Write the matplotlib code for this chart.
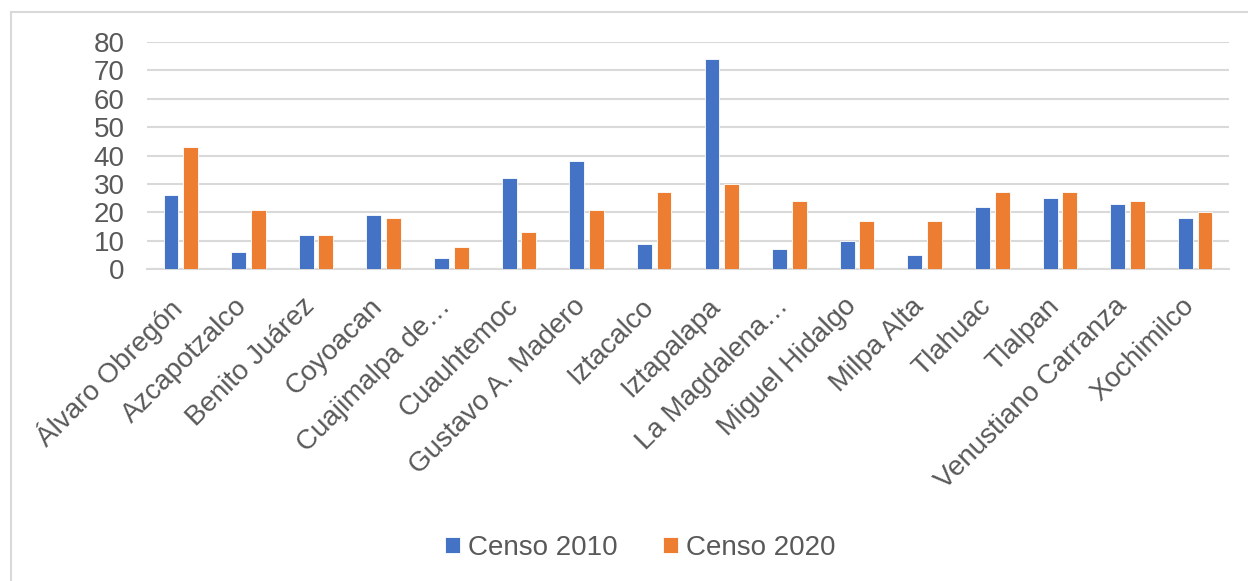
import numpy as np
import matplotlib.pyplot as plt
import matplotlib.transforms as mtransforms
from matplotlib.lines import Line2D

plt.rcParams['font.family'] = ['Liberation Sans', 'DejaVu Sans']

# Alcaldías de la Ciudad de México
alcaldias = ["Álvaro Obregón", "Azcapotzalco", "Benito Juárez", "Coyoacan",
             "Cuajimalpa de…", "Cuauhtemoc", "Gustavo A. Madero", "Iztacalco",
             "Iztapalapa", "La Magdalena…", "Miguel Hidalgo", "Milpa Alta",
             "Tlahuac", "Tlalpan", "Venustiano Carranza", "Xochimilco"]
censo_2010 = [26, 6, 12, 19, 4, 32, 38, 9, 74, 7, 10, 5, 22, 25, 23, 18]
censo_2020 = [43, 21, 12, 18, 8, 13, 21, 27, 30, 24, 17, 17, 27, 27, 24, 20]

text_color = "#595959"
grid_color = "#d9d9d9"

fig = plt.figure(figsize=(12.48, 5.81), dpi=100)
ax = fig.add_axes([0.1178, 0.5365, 0.867, 0.3917])

x = np.arange(len(alcaldias))
w = 0.22
gap = 0.035
ax.bar(x - w / 2 - gap, censo_2010, w, color="#4472c4", edgecolor="white",
       linewidth=0.6, label="Censo 2010", zorder=3)
ax.bar(x + w / 2 + gap, censo_2020, w, color="#ed7d31", edgecolor="white",
       linewidth=0.6, label="Censo 2020", zorder=3)

ax.set_xlim(-0.5, len(alcaldias) - 0.5)
ax.set_ylim(0, 80)
ax.set_yticks(range(0, 81, 10))
ax.yaxis.grid(True, color=grid_color, linewidth=1.5, zorder=0)
ax.set_axisbelow(True)
for s in ["top", "right", "left"]:
    ax.spines[s].set_visible(False)
ax.spines["bottom"].set_color(grid_color)
ax.spines["bottom"].set_linewidth(1.5)
ax.tick_params(axis="both", length=0, labelsize=20, colors=text_color)
ax.tick_params(axis="y", pad=16)

ax.set_xticks(x)
ax.set_xticklabels(alcaldias, rotation=45, ha="right", rotation_mode="anchor")
ax.tick_params(axis="x", pad=10)

# desplazar etiquetas para que terminen bajo cada grupo
shift = mtransforms.ScaledTranslation(-14 / 100, -10 / 100, fig.dpi_scale_trans)
for lbl in ax.get_xticklabels():
    lbl.set_transform(lbl.get_transform() + shift)

fig.legend(loc="center", bbox_to_anchor=(0.513, 0.057), ncol=2, frameon=False,
           fontsize=20, labelcolor=text_color, handlelength=0.55,
           handleheight=0.55, handletextpad=0.3, columnspacing=1.6)

# marco del gráfico
fig.add_artist(Line2D([11 / 1248, 11 / 1248], [0, 1 - 12 / 581],
                      color=grid_color, linewidth=1.5))
fig.add_artist(Line2D([11 / 1248, 1], [1 - 12 / 581, 1 - 12 / 581],
                      color=grid_color, linewidth=1.5))

fig.savefig("out.png", dpi=100, facecolor="white")
